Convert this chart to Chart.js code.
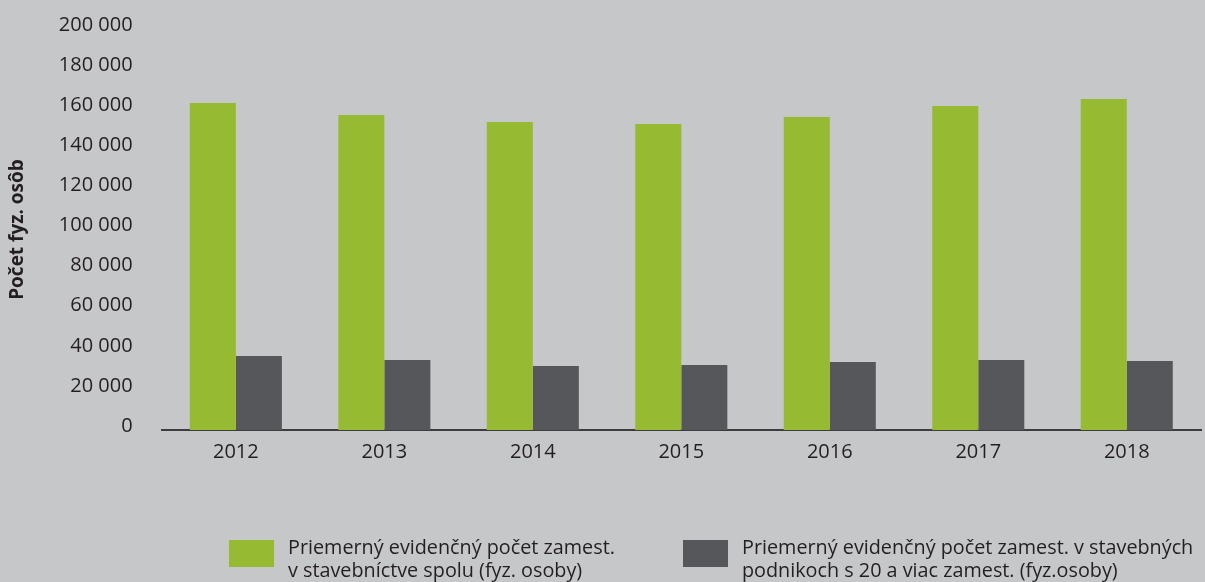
<!DOCTYPE html>
<html>
<head>
<meta charset="utf-8">
<script src="https://cdn.jsdelivr.net/npm/chart.js@4"></script>
<style>
  html, body { margin: 0; padding: 0; background: #c6c7c9; }
  #wrap { position: relative; width: 1205px; height: 582px; background: #c6c7c9; overflow: hidden; }
  #c { position: absolute; left: 0; top: 0; }
  #legend { position: absolute; left: 0; top: 0; width: 1205px; height: 582px; pointer-events: none;
            font-family: "Open Sans", sans-serif; font-size: 19.8px; color: #231f20; line-height: 23px; }
  .item { position: absolute; top: 535px; display: flex; align-items: flex-start; white-space: nowrap; }
  .box { width: 45px; height: 27px; margin-top: 5px; margin-right: 14px; flex: none; }
</style>
</head>
<body>
<div id="wrap">
  <canvas id="c" width="1205" height="582"></canvas>
  <div id="legend"></div>
</div>
<script>
const categories = ["2012", "2013", "2014", "2015", "2016", "2017", "2018"];
const seriesTotal = [163100, 157100, 153600, 152600, 156100, 161600, 165100];
const seriesLarge = [36900, 34900, 31900, 32400, 33900, 34900, 34400];
const seriesNames = [
  ["Priemerný evidenčný počet zamest.", "v stavebníctve spolu (fyz. osoby)"],
  ["Priemerný evidenčný počet zamest. v stavebných", "podnikoch s 20 a viac zamest. (fyz.osoby)"]
];
const yTitle = "Počet fyz. osôb";
const yTicks = [0, 20000, 40000, 60000, 80000, 100000, 120000, 140000, 160000, 180000, 200000];
const colors = ["#96bb33", "#56575a"];

function fmt(v) {
  return String(v).replace(/\B(?=(\d{3})+(?!\d))/g, " ");
}

const chart = new Chart(document.getElementById("c"), {
  type: "bar",
  data: {
    labels: categories,
    datasets: [
      { label: seriesNames[0].join(" "), data: seriesTotal, backgroundColor: colors[0] },
      { label: seriesNames[1].join(" "), data: seriesLarge, backgroundColor: colors[1] }
    ]
  },
  options: {
    responsive: false,
    animation: false,
    devicePixelRatio: 1,
    categoryPercentage: 0.62,
    barPercentage: 1.0,
    layout: { padding: { left: 0, right: 4, top: 29, bottom: 108 } },
    plugins: {
      legend: { display: false },
      tooltip: { enabled: false }
    },
    scales: {
      x: {
        grid: { display: false, drawTicks: false },
        border: { display: true, color: "#3d3d3f", width: 2 },
        ticks: { color: "#231f20", font: { family: "Open Sans", size: 20 }, padding: 10 }
      },
      y: {
        min: 0,
        max: 200000,
        afterBuildTicks: (axis) => { axis.ticks = yTicks.map(v => ({ value: v })); },
        afterFit: (axis) => { axis.paddingTop = 0; axis.paddingBottom = 0; },
        grid: { display: false, drawTicks: false },
        border: { display: false },
        ticks: {
          color: "#231f20",
          font: { family: "Open Sans", size: 20 },
          padding: 29,
          labelOffset: -4,
          callback: (v) => fmt(v)
        },
        title: {
          display: true,
          text: yTitle,
          color: "#231f20",
          font: { family: "Open Sans", size: 19, weight: "bold" },
          padding: { top: 6, bottom: 1 }
        }
      }
    }
  }
});

const legend = document.getElementById("legend");
const lefts = [229, 683];
chart.data.datasets.forEach((ds, i) => {
  const item = document.createElement("div");
  item.className = "item";
  item.style.left = lefts[i] + "px";
  const box = document.createElement("div");
  box.className = "box";
  box.style.background = ds.backgroundColor;
  const txt = document.createElement("div");
  seriesNames[i].forEach(line => {
    const d = document.createElement("div");
    d.textContent = line;
    txt.appendChild(d);
  });
  item.appendChild(box);
  item.appendChild(txt);
  legend.appendChild(item);
});
</script>
</body>
</html>
